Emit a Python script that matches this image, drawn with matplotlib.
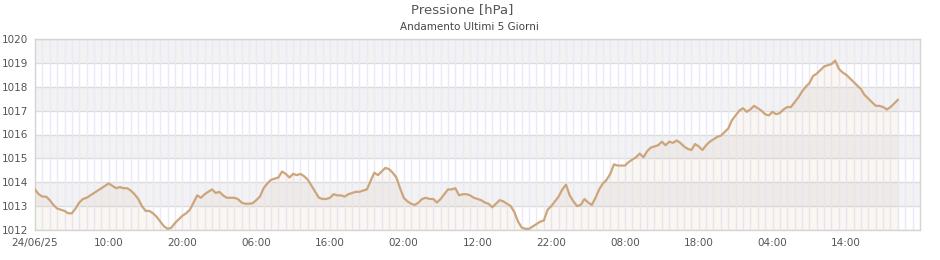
import numpy as np
import pandas as pd
import matplotlib
matplotlib.use('Agg')
import matplotlib.pyplot as plt
import matplotlib.dates as mdates
from matplotlib.ticker import FixedLocator, FuncFormatter

# readings every 30 minutes from 24/06/25 00:00 (hPa)
pressure = [
    1013.7, 1013.5, 1013.4, 1013.4, 1013.25, 1013.05, 1012.9, 1012.85, 1012.8, 1012.7,
    1012.7, 1012.9, 1013.15, 1013.3, 1013.35, 1013.45, 1013.55, 1013.65, 1013.75, 1013.85,
    1013.95, 1013.85, 1013.75, 1013.8, 1013.75, 1013.75, 1013.65, 1013.5, 1013.3, 1013.0,
    1012.8, 1012.8, 1012.7, 1012.55, 1012.35, 1012.15, 1012.05, 1012.1, 1012.3, 1012.45,
    1012.6, 1012.7, 1012.85, 1013.15, 1013.45, 1013.35, 1013.5, 1013.6, 1013.7, 1013.55,
    1013.6, 1013.45, 1013.35, 1013.35, 1013.35, 1013.3, 1013.15, 1013.1, 1013.1, 1013.12,
    1013.25, 1013.4, 1013.75, 1013.95, 1014.1, 1014.15, 1014.2, 1014.45, 1014.35, 1014.2,
    1014.35, 1014.3, 1014.35, 1014.25, 1014.1, 1013.85, 1013.6, 1013.35, 1013.3, 1013.3,
    1013.35, 1013.5, 1013.45, 1013.45, 1013.4, 1013.5, 1013.55, 1013.6, 1013.6, 1013.65,
    1013.7, 1014.05, 1014.4, 1014.3, 1014.45, 1014.6, 1014.55, 1014.4, 1014.2, 1013.75,
    1013.35, 1013.2, 1013.1, 1013.05, 1013.15, 1013.3, 1013.35, 1013.3, 1013.3, 1013.15,
    1013.3, 1013.5, 1013.7, 1013.7, 1013.75, 1013.45, 1013.5, 1013.5, 1013.45, 1013.35,
    1013.3, 1013.25, 1013.15, 1013.1, 1012.95, 1013.1, 1013.25, 1013.2, 1013.1, 1013.0,
    1012.75, 1012.35, 1012.1, 1012.05, 1012.05, 1012.15, 1012.25, 1012.35, 1012.4, 1012.85,
    1013.0, 1013.2, 1013.4, 1013.7, 1013.9, 1013.45, 1013.2, 1013.0, 1013.05, 1013.3,
    1013.15, 1013.05, 1013.35, 1013.7, 1013.95, 1014.1, 1014.35, 1014.75, 1014.7, 1014.7,
    1014.7, 1014.85, 1014.95, 1015.05, 1015.2, 1015.05, 1015.3, 1015.45, 1015.5, 1015.55,
    1015.7, 1015.55, 1015.7, 1015.65, 1015.75, 1015.65, 1015.5, 1015.4, 1015.35, 1015.6,
    1015.5, 1015.35, 1015.55, 1015.7, 1015.8, 1015.9, 1015.95, 1016.1, 1016.25, 1016.6,
    1016.8, 1017.0, 1017.1, 1016.95, 1017.05, 1017.2, 1017.1, 1017.0, 1016.85, 1016.8,
    1016.95, 1016.85, 1016.9, 1017.05, 1017.15, 1017.15, 1017.35, 1017.55, 1017.8, 1018.0,
    1018.15, 1018.45, 1018.55, 1018.7, 1018.85, 1018.9, 1018.95, 1019.1, 1018.75, 1018.6,
    1018.5, 1018.35, 1018.2, 1018.05, 1017.9, 1017.65, 1017.5, 1017.35, 1017.2, 1017.2,
    1017.15, 1017.05, 1017.15, 1017.3, 1017.45,
]
start = '2025-06-24 00:00'
end = '2025-06-29 00:00'
y_min, y_max = 1012, 1020

times = pd.date_range(start, periods=len(pressure), freq='30min')

line_col = '#cca57a'
txt_col = '#555555'

fig = plt.figure(figsize=(9.4, 2.6), dpi=100)
ax = fig.add_axes([35/940, 30/260, 885/940, 191/260])

t0, t1 = mdates.date2num(pd.Timestamp(start)), mdates.date2num(pd.Timestamp(end))
ax.set_xlim(t0, t1)
ax.set_ylim(y_min, y_max)

# alternating horizontal bands
for lo in range(y_min, y_max):
    if lo % 2 == 1:
        ax.axhspan(lo, lo + 1, color='#f2f2f2', lw=0, zorder=0)
for v in range(y_min, y_max + 1):
    ax.axhline(v, color='#dcdcdc', lw=1, zorder=1)

# hourly vertical grid
hours = mdates.date2num(pd.date_range(start, end, freq='1h'))
for h in hours[1:-1]:
    ax.axvline(h, color='#eae9fa', lw=1, zorder=1)

x = mdates.date2num(times)
ax.fill_between(x, pressure, y_min, color='#c8a070', alpha=0.08, lw=0, zorder=2)
ax.plot(x, pressure, color=line_col, lw=1.6, zorder=3)

ticks = mdates.date2num(pd.date_range(start, end, freq='10h'))[:-1]
ax.xaxis.set_major_locator(FixedLocator(ticks))
def fmt(val, pos):
    d = mdates.num2date(val)
    return d.strftime('%d/%m/%y') if pos == 0 else d.strftime('%H:%M')
ax.xaxis.set_major_formatter(FuncFormatter(fmt))
ax.set_yticks(range(y_min, y_max + 1))

ax.tick_params(axis='both', length=0, labelsize=7.5, colors=txt_col)
ax.tick_params(axis='x', pad=6)
ax.tick_params(axis='y', pad=5)
for s in ax.spines.values():
    s.set_color('#d4d4d4')
    s.set_linewidth(1)

fig.text(0.492, 1 - 10/260, 'Pressione [hPa]', ha='center', va='center', fontsize=9.5, color=txt_col)
fig.text(0.499, 1 - 27/260, 'Andamento Ultimi 5 Giorni', ha='center', va='center', fontsize=7.5, color='#444444')

fig.savefig('out.png', dpi=100)
